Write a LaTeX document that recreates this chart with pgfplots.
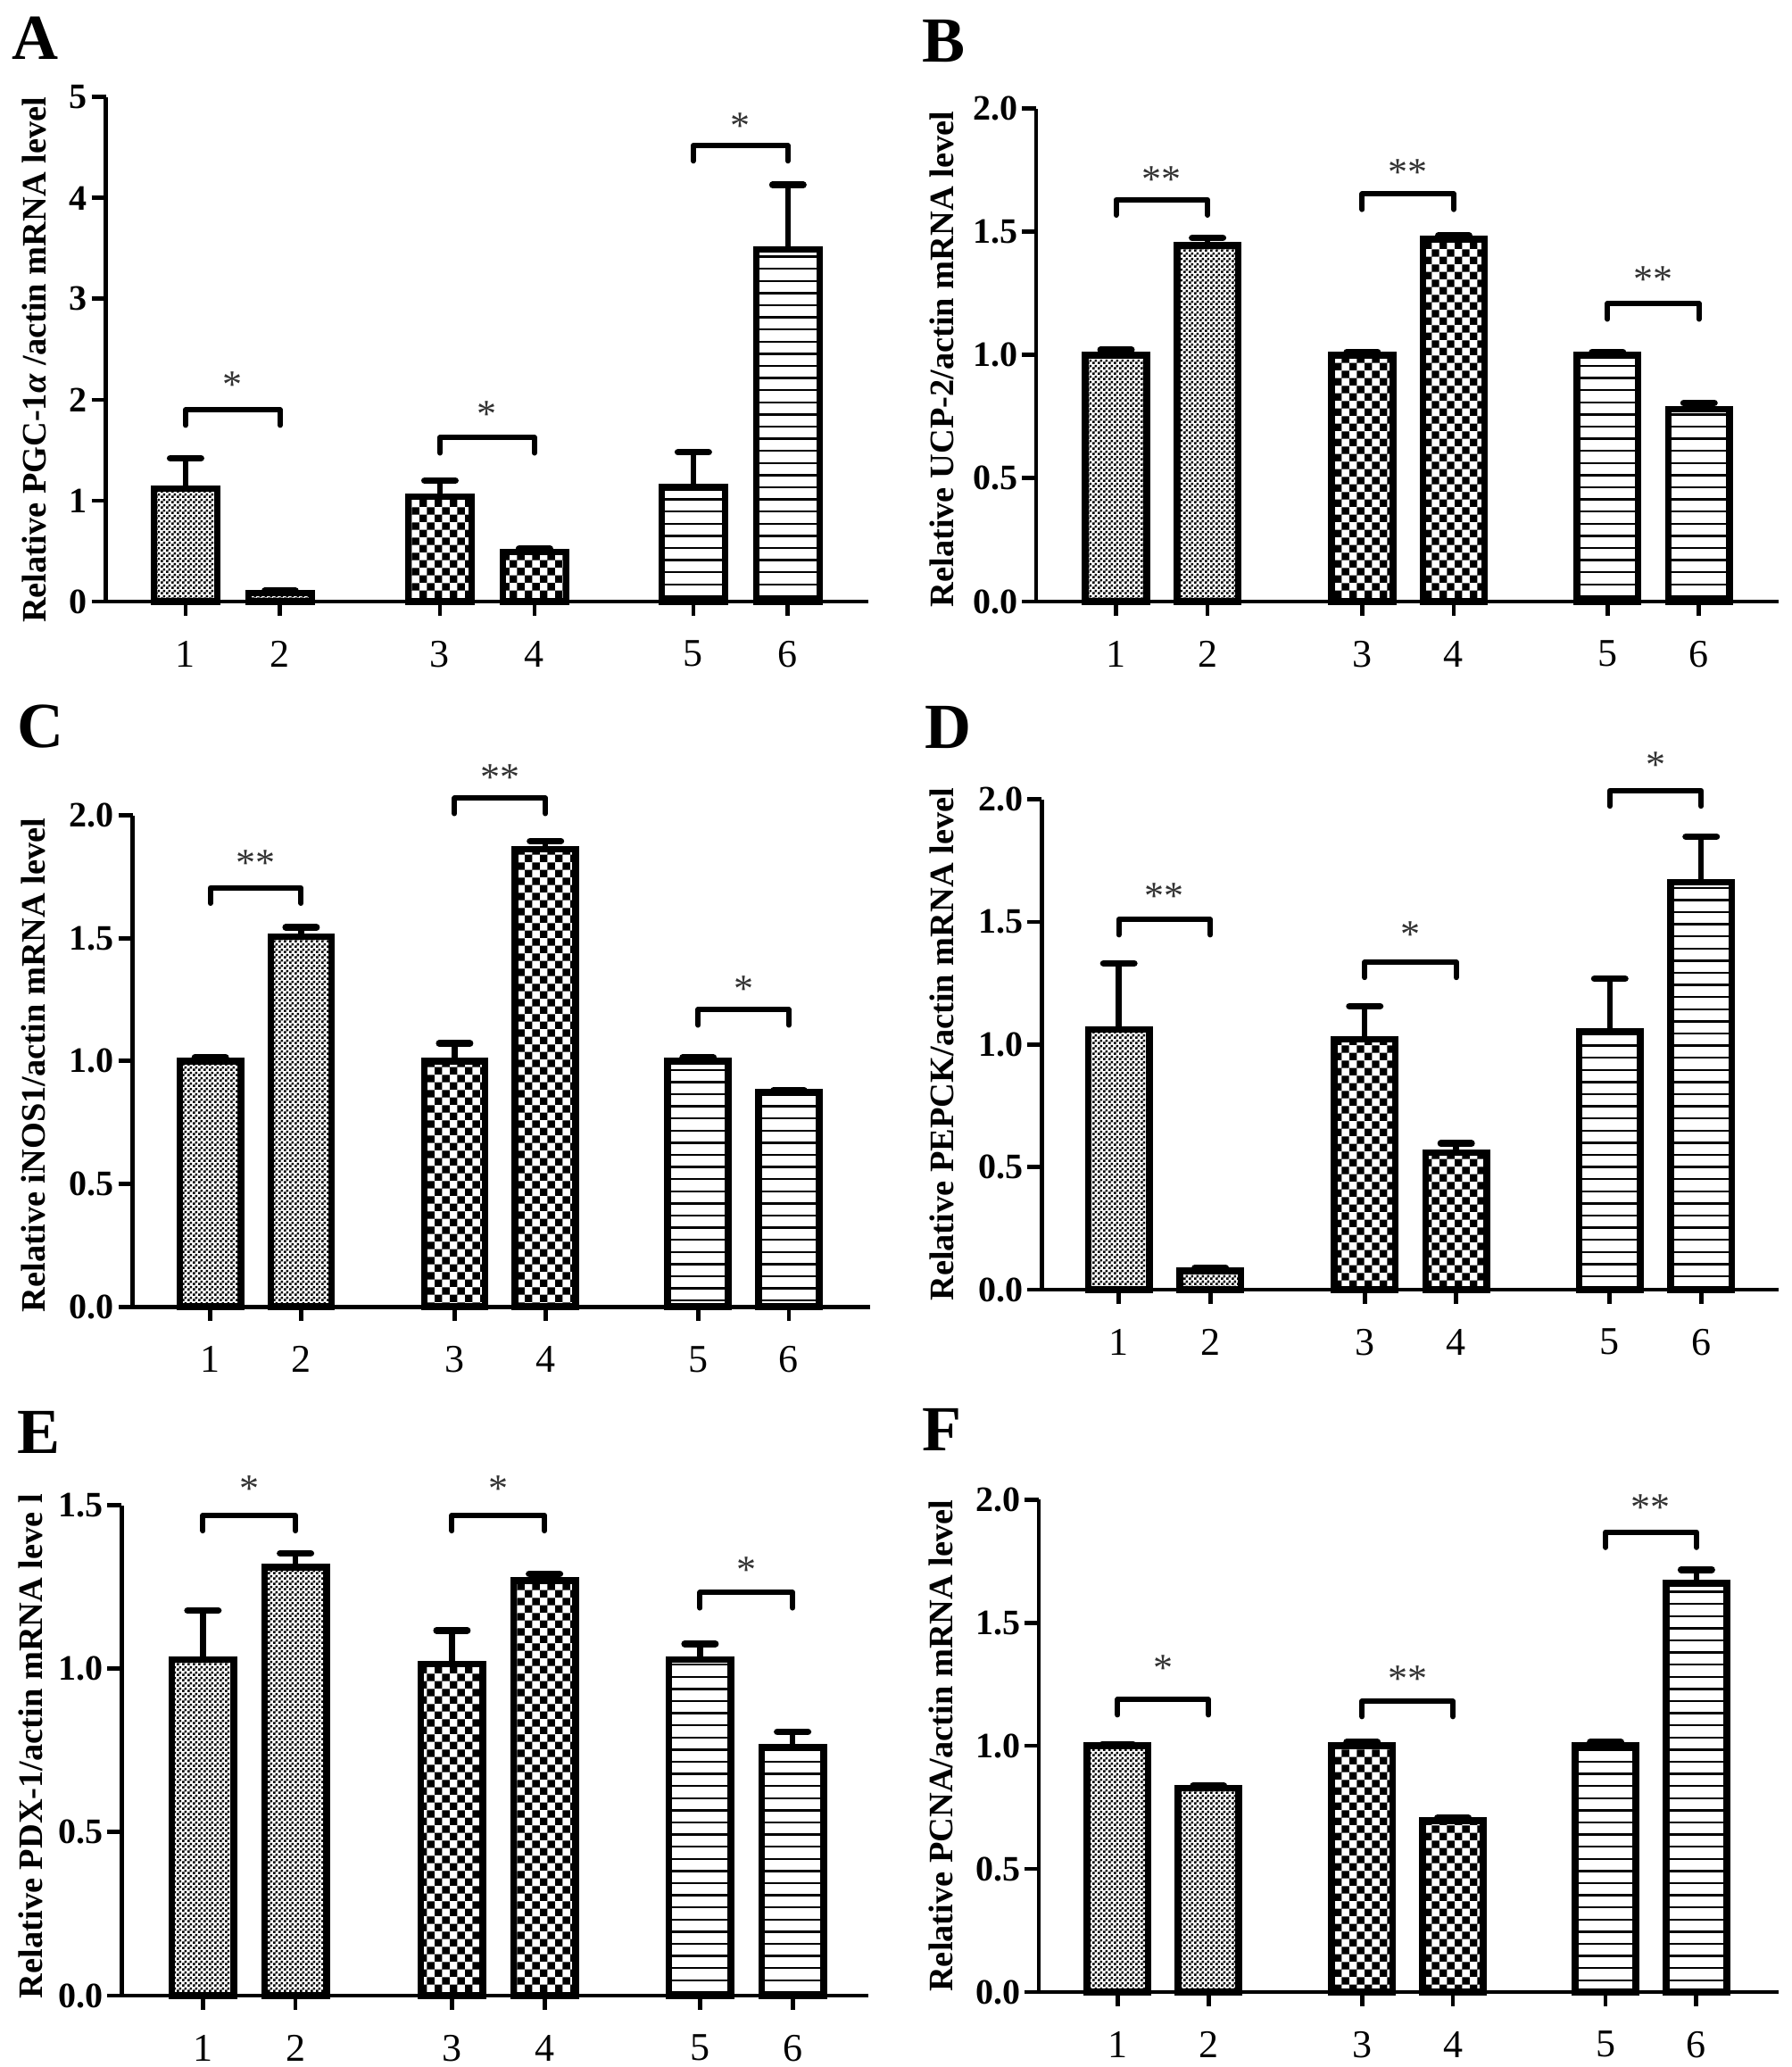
\documentclass[border=0pt]{standalone}
\usepackage{fontspec}
\setmainfont{Liberation Serif}
\usepackage{pgfplots}
\pgfplotsset{compat=1.18}
\usetikzlibrary{patterns}

\pgfdeclarepatternformonly{finecheck}{\pgfqpoint{0pt}{0pt}}{\pgfqpoint{1.5pt}{1.5pt}}{\pgfqpoint{1.5pt}{1.5pt}}{%
 \pgfpathrectangle{\pgfqpoint{0pt}{0pt}}{\pgfqpoint{0.75pt}{0.75pt}}%
 \pgfpathrectangle{\pgfqpoint{0.75pt}{0.75pt}}{\pgfqpoint{0.75pt}{0.75pt}}%
 \pgfusepath{fill}}
\pgfdeclarepatternformonly{bigcheck}{\pgfqpoint{0pt}{0pt}}{\pgfqpoint{4.2pt}{4.2pt}}{\pgfqpoint{4.2pt}{4.2pt}}{%
 \pgfpathrectangle{\pgfqpoint{0pt}{0pt}}{\pgfqpoint{2.1pt}{2.1pt}}%
 \pgfpathrectangle{\pgfqpoint{2.1pt}{2.1pt}}{\pgfqpoint{2.1pt}{2.1pt}}%
 \pgfusepath{fill}}
\pgfdeclarepatternformonly{hlines}{\pgfqpoint{0pt}{0pt}}{\pgfqpoint{100pt}{1pt}}{\pgfqpoint{100pt}{3.4pt}}{%
 \pgfsetlinewidth{0.6pt}%
 \pgfpathmoveto{\pgfqpoint{0pt}{0.5pt}}\pgfpathlineto{\pgfqpoint{100pt}{0.5pt}}\pgfusepath{stroke}}

\pgfplotsset{
 panel/.style={
  scale only axis, anchor=south west,
  axis lines=left, axis line style={-, line width=1.2pt, black},
  tick align=outside, major tick length=4pt,
  every tick/.style={line width=1.2pt, black},
  xtick={1,2,3.69,4.69,6.37,7.37}, xticklabels={1,2,3,4,5,6},
  ymin=0, clip=false, enlargelimits=false,
  /pgf/number format/assume math mode=true,
  xticklabel style={font=\fontsize{11}{13}\selectfont, yshift=-3.5pt},
  yticklabel style={font=\bfseries\fontsize{10}{12}\selectfont, inner xsep=1pt},
  ylabel style={at={(axis description cs:0,0.5)}, anchor=center, font=\bfseries\fontsize{9.6}{11}\selectfont},
 },
 dec/.style={yticklabel style={/pgf/number format/.cd, fixed, fixed zerofill, precision=1}},
 bb/.style={ybar, bar width=0.67, bar shift=0pt, draw=black, line width=1.9pt,
   /pgfplots/error bars/y dir=plus, /pgfplots/error bars/y explicit,
   /pgfplots/error bars/error bar style={line width=1.6pt, line cap=round},
   /pgfplots/error bars/error mark options={rotate=90, mark size=4.3pt, line width=1.9pt, line cap=round}},
 g1/.style={bb, pattern=finecheck},
 g2/.style={bb, pattern=bigcheck},
 g3/.style={bb, pattern=hlines},
}
\tikzset{
 brk/.style={line width=1.5pt, line cap=round, line join=round},
 star/.style={font=\fontsize{11}{12}\selectfont, text=black!80, inner sep=0pt, yshift=-1.4pt},
 plab/.style={anchor=base west, font=\bfseries\fontsize{18}{20}\selectfont, inner sep=0pt},
}

\begin{document}
\begin{tikzpicture}
\useasboundingbox (0,0) rectangle (502pt,579pt);

% ---------- A ----------
\begin{axis}[panel, at={(29.63pt,410.5pt)}, width=213.6pt, height=141.3pt,
  xmin=0.156, xmax=8.22, ymax=5, ytick={0,1,2,3,4,5},
  ylabel={Relative PGC-1\textit{α} /actin mRNA level}, ylabel style={yshift=20.1pt, xshift=-3pt}]
\addplot[g1] coordinates {(1,1.12) +- (0,0.30)};
\addplot[g1] coordinates {(2,0.085) +- (0,0.02)};
\addplot[g2] coordinates {(3.69,1.04) +- (0,0.16)};
\addplot[g2] coordinates {(4.69,0.49) +- (0,0.035)};
\addplot[g3] coordinates {(6.37,1.13) +- (0,0.35)};
\addplot[g3] coordinates {(7.37,3.49) +- (0,0.64)};
\draw[brk] ([yshift=-4.3pt]axis cs:1,1.90) -- (axis cs:1,1.90) -- (axis cs:2,1.90) -- ([yshift=-4.3pt]axis cs:2,1.90);
\node[star] at (axis cs:1.5,2.20) {*};
\draw[brk] ([yshift=-4.3pt]axis cs:3.69,1.625) -- (axis cs:3.69,1.625) -- (axis cs:4.69,1.625) -- ([yshift=-4.3pt]axis cs:4.69,1.625);
\node[star] at (axis cs:4.19,1.91) {*};
\draw[brk] ([yshift=-4.3pt]axis cs:6.37,4.52) -- (axis cs:6.37,4.52) -- (axis cs:7.37,4.52) -- ([yshift=-4.3pt]axis cs:7.37,4.52);
\node[star] at (axis cs:6.87,4.76) {*};
\end{axis}

% ---------- B ----------
\begin{axis}[panel, dec, at={(290.25pt,410.5pt)}, width=208pt, height=138.1pt,
  xmin=0.127, xmax=8.24, ymax=2, ytick={0,0.5,1,1.5,2},
  ylabel={Relative UCP-2/actin mRNA level}, ylabel style={yshift=26.5pt, xshift=-1.2pt}]
\addplot[g1] coordinates {(1,1.0) +- (0,0.022)};
\addplot[g1] coordinates {(2,1.445) +- (0,0.03)};
\addplot[g2] coordinates {(3.69,1.0) +- (0,0.012)};
\addplot[g2] coordinates {(4.69,1.47) +- (0,0.015)};
\addplot[g3] coordinates {(6.37,1.0) +- (0,0.012)};
\addplot[g3] coordinates {(7.37,0.78) +- (0,0.025)};
\draw[brk] ([yshift=-4.3pt]axis cs:1,1.63) -- (axis cs:1,1.63) -- (axis cs:2,1.63) -- ([yshift=-4.3pt]axis cs:2,1.63);
\node[star] at (axis cs:1.5,1.734) {**};
\draw[brk] ([yshift=-4.3pt]axis cs:3.69,1.653) -- (axis cs:3.69,1.653) -- (axis cs:4.69,1.653) -- ([yshift=-4.3pt]axis cs:4.69,1.653);
\node[star] at (axis cs:4.19,1.762) {**};
\draw[brk] ([yshift=-4.3pt]axis cs:6.37,1.208) -- (axis cs:6.37,1.208) -- (axis cs:7.37,1.208) -- ([yshift=-4.3pt]axis cs:7.37,1.208);
\node[star] at (axis cs:6.87,1.328) {**};
\end{axis}

% ---------- C ----------
\begin{axis}[panel, dec, at={(37.13pt,212.95pt)}, width=206.5pt, height=137.65pt,
  xmin=0.144, xmax=8.26, ymax=2, ytick={0,0.5,1,1.5,2},
  ylabel={Relative iNOS1/actin mRNA level}, ylabel style={yshift=27.9pt, xshift=-1.1pt}]
\addplot[g1] coordinates {(1,1.0) +- (0,0.015)};
\addplot[g1] coordinates {(2,1.507) +- (0,0.037)};
\addplot[g2] coordinates {(3.69,1.0) +- (0,0.072)};
\addplot[g2] coordinates {(4.69,1.863) +- (0,0.032)};
\addplot[g3] coordinates {(6.37,1.0) +- (0,0.014)};
\addplot[g3] coordinates {(7.37,0.872) +- (0,0.008)};
\draw[brk] ([yshift=-4.3pt]axis cs:1,1.705) -- (axis cs:1,1.705) -- (axis cs:2,1.705) -- ([yshift=-4.3pt]axis cs:2,1.705);
\node[star] at (axis cs:1.5,1.826) {**};
\draw[brk] ([yshift=-4.3pt]axis cs:3.69,2.07) -- (axis cs:3.69,2.07) -- (axis cs:4.69,2.07) -- ([yshift=-4.3pt]axis cs:4.69,2.07);
\node[star] at (axis cs:4.19,2.174) {**};
\draw[brk] ([yshift=-4.3pt]axis cs:6.37,1.209) -- (axis cs:6.37,1.209) -- (axis cs:7.37,1.209) -- ([yshift=-4.3pt]axis cs:7.37,1.209);
\node[star] at (axis cs:6.87,1.314) {*};
\end{axis}

% ---------- D ----------
\begin{axis}[panel, dec, at={(291.83pt,217.75pt)}, width=206.5pt, height=137.35pt,
  xmin=0.157, xmax=8.22, ymax=2, ytick={0,0.5,1,1.5,2},
  ylabel={Relative PEPCK/actin mRNA level}, ylabel style={yshift=28.1pt}]
\addplot[g1] coordinates {(1,1.061) +- (0,0.27)};
\addplot[g1] coordinates {(2,0.077) +- (0,0.012)};
\addplot[g2] coordinates {(3.69,1.021) +- (0,0.135)};
\addplot[g2] coordinates {(4.69,0.559) +- (0,0.037)};
\addplot[g3] coordinates {(6.37,1.051) +- (0,0.217)};
\addplot[g3] coordinates {(7.37,1.662) +- (0,0.186)};
\draw[brk] ([yshift=-4.3pt]axis cs:1,1.51) -- (axis cs:1,1.51) -- (axis cs:2,1.51) -- ([yshift=-4.3pt]axis cs:2,1.51);
\node[star] at (axis cs:1.5,1.627) {**};
\draw[brk] ([yshift=-4.3pt]axis cs:3.69,1.336) -- (axis cs:3.69,1.336) -- (axis cs:4.69,1.336) -- ([yshift=-4.3pt]axis cs:4.69,1.336);
\node[star] at (axis cs:4.19,1.47) {*};
\draw[brk] ([yshift=-4.3pt]axis cs:6.37,2.035) -- (axis cs:6.37,2.035) -- (axis cs:7.37,2.035) -- ([yshift=-4.3pt]axis cs:7.37,2.035);
\node[star] at (axis cs:6.87,2.16) {*};
\end{axis}

% ---------- E ----------
\begin{axis}[panel, dec, at={(34.1pt,20pt)}, width=209.2pt, height=137.35pt,
  xmin=0.123, xmax=8.19, ymax=1.5, ytick={0,0.5,1,1.5},
  ylabel={Relative PDX-1/actin mRNA leve l}, ylabel style={yshift=25.4pt, xshift=1.2pt}]
\addplot[g1] coordinates {(1,1.028) +- (0,0.15)};
\addplot[g1] coordinates {(2,1.311) +- (0,0.042)};
\addplot[g2] coordinates {(3.69,1.014) +- (0,0.103)};
\addplot[g2] coordinates {(4.69,1.269) +- (0,0.021)};
\addplot[g3] coordinates {(6.37,1.028) +- (0,0.048)};
\addplot[g3] coordinates {(7.37,0.760) +- (0,0.047)};
\draw[brk] ([yshift=-4.3pt]axis cs:1,1.469) -- (axis cs:1,1.469) -- (axis cs:2,1.469) -- ([yshift=-4.3pt]axis cs:2,1.469);
\node[star] at (axis cs:1.5,1.565) {*};
\draw[brk] ([yshift=-4.3pt]axis cs:3.69,1.469) -- (axis cs:3.69,1.469) -- (axis cs:4.69,1.469) -- ([yshift=-4.3pt]axis cs:4.69,1.469);
\node[star] at (axis cs:4.19,1.565) {*};
\draw[brk] ([yshift=-4.3pt]axis cs:6.37,1.233) -- (axis cs:6.37,1.233) -- (axis cs:7.37,1.233) -- ([yshift=-4.3pt]axis cs:7.37,1.233);
\node[star] at (axis cs:6.87,1.316) {*};
\end{axis}

% ---------- F ----------
\begin{axis}[panel, dec, at={(291pt,21pt)}, width=207.25pt, height=137.95pt,
  xmin=0.132, xmax=8.275, ymax=2, ytick={0,0.5,1,1.5,2},
  ylabel={Relative PCNA/actin mRNA level}, ylabel style={yshift=27.3pt}]
\addplot[g1] coordinates {(1,1.0) +- (0,0.006)};
\addplot[g1] coordinates {(2,0.828) +- (0,0.01)};
\addplot[g2] coordinates {(3.69,1.0) +- (0,0.015)};
\addplot[g2] coordinates {(4.69,0.696) +- (0,0.012)};
\addplot[g3] coordinates {(6.37,1.0) +- (0,0.015)};
\addplot[g3] coordinates {(7.37,1.659) +- (0,0.056)};
\draw[brk] ([yshift=-4.3pt]axis cs:1,1.188) -- (axis cs:1,1.188) -- (axis cs:2,1.188) -- ([yshift=-4.3pt]axis cs:2,1.188);
\node[star] at (axis cs:1.5,1.334) {*};
\draw[brk] ([yshift=-4.3pt]axis cs:3.69,1.181) -- (axis cs:3.69,1.181) -- (axis cs:4.69,1.181) -- ([yshift=-4.3pt]axis cs:4.69,1.181);
\node[star] at (axis cs:4.19,1.292) {**};
\draw[brk] ([yshift=-4.3pt]axis cs:6.37,1.868) -- (axis cs:6.37,1.868) -- (axis cs:7.37,1.868) -- ([yshift=-4.3pt]axis cs:7.37,1.868);
\node[star] at (axis cs:6.87,1.988) {**};
\end{axis}

% panel letters
\node[plab] at (3.25pt,562.25pt) {A};
\node[plab] at (258.25pt,561.5pt) {B};
\node[plab] at (4.75pt,369.5pt) {C};
\node[plab] at (259pt,369.25pt) {D};
\node[plab] at (4.75pt,171.75pt) {E};
\node[plab] at (258.25pt,172.5pt) {F};
\end{tikzpicture}
\end{document}
